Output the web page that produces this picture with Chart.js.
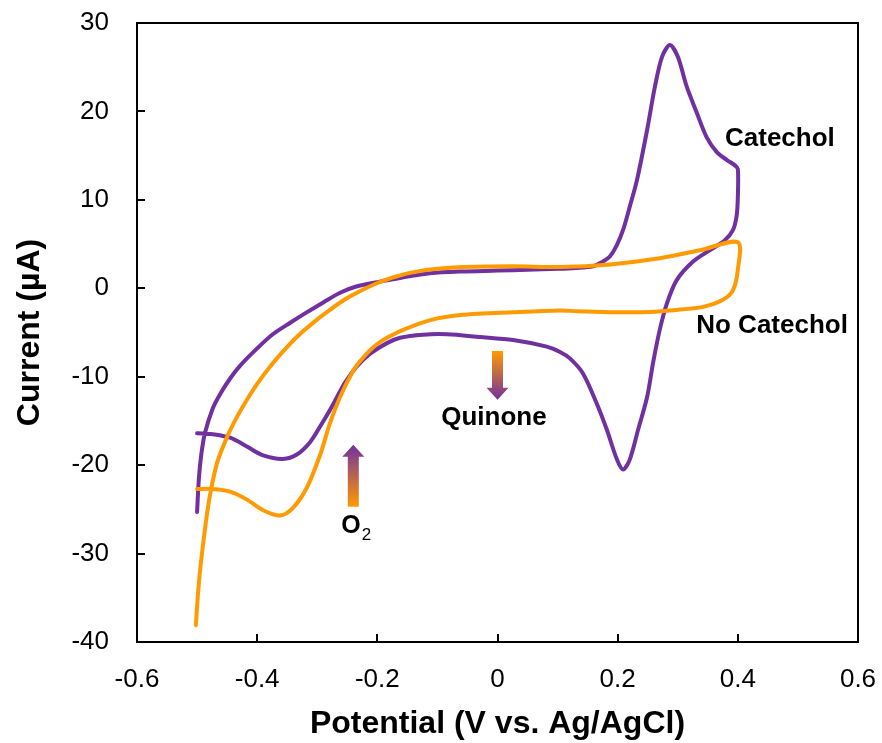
<!DOCTYPE html>
<html>
<head>
<meta charset="utf-8">
<script src="https://cdn.jsdelivr.net/npm/chart.js@4.4.1/dist/chart.umd.min.js"></script>
<style>
  html, body { margin: 0; padding: 0; background: #fff; }
</style>
</head>
<body>
<canvas id="cv" width="882" height="743"></canvas>
<script>
// potential (V) and current (uA) in sweep order
const catecholV = [
  -0.500, -0.497, -0.493, -0.487, -0.474, -0.462, -0.445, -0.429, -0.400, -0.374,
  -0.345, -0.317, -0.290, -0.262, -0.235, -0.200, -0.160, -0.112, -0.060, 0.000,
  0.050, 0.100, 0.130, 0.159, 0.175, 0.187, 0.198, 0.209, 0.220, 0.232,
  0.249, 0.262, 0.274, 0.287, 0.300, 0.315, 0.332, 0.348, 0.365, 0.382,
  0.395, 0.400,
  0.400, 0.398, 0.392, 0.378, 0.353, 0.325, 0.298, 0.282, 0.270, 0.259,
  0.249, 0.234, 0.220, 0.209, 0.199, 0.182, 0.165, 0.142, 0.120, 0.104,
  0.082, 0.026, -0.030, -0.084, -0.124, -0.162, -0.184, -0.212, -0.235, -0.255,
  -0.275, -0.295, -0.312, -0.334, -0.357, -0.390, -0.417, -0.445, -0.474, -0.500
];
const catecholI = [
  -25.3, -21.5, -18.8, -16.4, -13.6, -12.0, -10.2, -8.8, -6.8, -5.2,
  -3.9, -2.7, -1.6, -0.5, 0.2, 0.7, 1.2, 1.7, 1.9, 2.0,
  2.1, 2.2, 2.3, 2.5, 3.0, 3.6, 4.8, 6.6, 9.2, 12.2,
  17.9, 22.8, 26.2, 27.5, 26.2, 22.8, 19.8, 17.1, 15.4, 14.5,
  13.9, 13.5,
  10.3, 8.2, 6.6, 5.4, 4.3, 3.0, 0.9, -1.7, -4.7, -8.4,
  -12.3, -16.0, -19.4, -20.5, -19.4, -16.0, -13.0, -9.6, -7.9, -7.2,
  -6.6, -5.85, -5.5, -5.2, -5.25, -5.6, -6.2, -7.4, -8.9, -10.8,
  -13.3, -15.6, -17.4, -18.8, -19.3, -18.9, -17.9, -16.9, -16.5, -16.4
];
const noCatecholV = [
  -0.502, -0.499, -0.495, -0.487, -0.479, -0.467, -0.450, -0.434, -0.417, -0.400,
  -0.379, -0.355, -0.334, -0.305, -0.279, -0.255, -0.234, -0.200, -0.170, -0.141,
  -0.100, -0.058, 0.026, 0.104, 0.187, 0.270, 0.337, 0.400,
  0.400, 0.392, 0.375, 0.342, 0.298, 0.242, 0.187, 0.132, 0.104, 0.026,
  -0.058, -0.112, -0.157, -0.184, -0.200, -0.212, -0.228, -0.240, -0.262, -0.280,
  -0.295, -0.317, -0.340, -0.362, -0.390, -0.417, -0.445, -0.474, -0.500
];
const noCatecholI = [
  -38.1, -35.0, -31.9, -27.3, -23.6, -19.8, -16.8, -14.6, -12.6, -10.8,
  -8.9, -7.0, -5.5, -3.8, -2.45, -1.3, -0.5, 0.6, 1.3, 1.8,
  2.2, 2.4, 2.5, 2.4, 2.7, 3.4, 4.3, 5.2,
  2.1, -0.2, -1.3, -2.1, -2.45, -2.7, -2.7, -2.6, -2.5, -2.7,
  -3.0, -3.6, -4.7, -5.6, -6.3, -7.0, -8.2, -9.3, -12.3, -15.5,
  -18.8, -22.5, -24.8, -25.7, -25.1, -23.9, -23.0, -22.7, -22.7
];

const xTicks = [-0.6, -0.4, -0.2, 0, 0.2, 0.4, 0.6];
const yTicks = [30, 20, 10, 0, -10, -20, -30, -40];

// annotation text and arrows, placed in data units
const noteText = ['Catechol', 'No Catechol', 'Quinone'];
const noteV = [0.470, 0.457, -0.006];
const noteI = [16.9, -4.3, -14.6];
const arrowV = [-0.24, 0.0];
const arrowFrom = [-24.7, -7.1];
const arrowTo = [-17.7, -12.6];
const o2V = -0.236;
const o2I = -26.9;

const PURPLE = '#7030A0';
const ORANGE = '#FF9A00';
const FAMILY = '"Liberation Sans", Arial, sans-serif';

const toXY = (xs, ys) => xs.map((v, i) => ({ x: v, y: ys[i] }));

// keep the plot box where the padding puts it, labels may hang over
const noOverhang = s => { s.paddingTop = 0; s.paddingBottom = 0; s.paddingLeft = 0; s.paddingRight = 0; };

function drawArrow(ctx, px, y0, y1) {
  const dir = Math.sign(y1 - y0), hw = 5.5, hh = 11, hl = 12;
  const g = ctx.createLinearGradient(0, y0, 0, y1);
  g.addColorStop(0, ORANGE);
  g.addColorStop(1, PURPLE);
  ctx.fillStyle = g;
  ctx.beginPath();
  ctx.moveTo(px - hw, y0);
  ctx.lineTo(px - hw, y1 - dir * hl);
  ctx.lineTo(px - hh, y1 - dir * hl);
  ctx.lineTo(px, y1);
  ctx.lineTo(px + hh, y1 - dir * hl);
  ctx.lineTo(px + hw, y1 - dir * hl);
  ctx.lineTo(px + hw, y0);
  ctx.closePath();
  ctx.fill();
}

const framePlugin = {
  id: 'frame',
  afterDatasetsDraw(chart) {
    const { ctx, chartArea: a, scales: { x, y } } = chart;
    ctx.save();
    ctx.strokeStyle = '#000';
    ctx.lineWidth = 2;
    ctx.strokeRect(a.left, a.top, a.right - a.left, a.bottom - a.top);

    // ticks point inward
    ctx.beginPath();
    xTicks.slice(1, -1).forEach(v => {
      const px = Math.round(x.getPixelForValue(v));
      ctx.moveTo(px, a.bottom);
      ctx.lineTo(px, a.bottom - 8);
    });
    yTicks.slice(1, -1).forEach(v => {
      const py = Math.round(y.getPixelForValue(v));
      ctx.moveTo(a.left, py);
      ctx.lineTo(a.left + 8, py);
    });
    ctx.stroke();

    arrowV.forEach((v, i) => {
      drawArrow(ctx, x.getPixelForValue(v), y.getPixelForValue(arrowFrom[i]), y.getPixelForValue(arrowTo[i]));
    });

    ctx.fillStyle = '#000';
    ctx.textAlign = 'center';
    ctx.textBaseline = 'middle';
    ctx.font = 'bold 26px ' + FAMILY;
    noteText.forEach((t, i) => {
      ctx.fillText(t, x.getPixelForValue(noteV[i]), y.getPixelForValue(noteI[i]));
    });

    // O2 with subscript
    const ox = x.getPixelForValue(o2V), oy = y.getPixelForValue(o2I);
    ctx.font = 'bold 25px ' + FAMILY;
    const wO = ctx.measureText('O').width;
    ctx.font = '17px ' + FAMILY;
    const w2 = ctx.measureText('2').width;
    const start = ox - (wO + w2) / 2;
    ctx.textAlign = 'left';
    ctx.font = 'bold 25px ' + FAMILY;
    ctx.fillText('O', start, oy);
    ctx.font = '17px ' + FAMILY;
    ctx.fillText('2', start + wO + 1, oy + 9);
    ctx.restore();
  }
};

new Chart(document.getElementById('cv'), {
  type: 'scatter',
  data: {
    datasets: [
      { label: 'Catechol', data: toXY(catecholV, catecholI), borderColor: PURPLE, showLine: true, order: 2 },
      { label: 'No Catechol', data: toXY(noCatecholV, noCatecholI), borderColor: ORANGE, showLine: true, order: 1 }
    ]
  },
  options: {
    responsive: false,
    animation: false,
    layout: { padding: { top: 23, right: 24, left: 0, bottom: 0 } },
    elements: {
      point: { radius: 0, hoverRadius: 0 },
      line: { borderWidth: 4, tension: 0.3, fill: false, borderCapStyle: 'round', borderJoinStyle: 'round' }
    },
    plugins: { legend: { display: false }, tooltip: { enabled: false } },
    scales: {
      x: {
        type: 'linear', min: -0.6, max: 0.6,
        grid: { display: false }, border: { display: false },
        afterBuildTicks: s => { s.ticks = xTicks.map(v => ({ value: v })); },
        afterFit: s => { s.height = 101; noOverhang(s); },
        ticks: {
          font: { size: 26, family: FAMILY }, color: '#000', padding: 14, maxRotation: 0,
          callback: v => String(Math.round(v * 10) / 10)
        },
        title: {
          display: true, text: 'Potential (V vs. Ag/AgCl)', color: '#000',
          font: { size: 32, weight: 'bold', family: FAMILY }, padding: { top: 0, bottom: 0 }
        }
      },
      y: {
        type: 'linear', min: -40, max: 30,
        grid: { display: false }, border: { display: false },
        afterBuildTicks: s => { s.ticks = yTicks.map(v => ({ value: v })); },
        afterFit: s => { s.width = 137; noOverhang(s); },
        ticks: { font: { size: 26, family: FAMILY }, color: '#000', padding: 20 },
        title: {
          display: true, text: 'Current (µA)', color: '#000',
          font: { size: 32, weight: 'bold', family: FAMILY }, padding: { top: 11, bottom: 0 }
        }
      }
    }
  },
  plugins: [framePlugin]
});
</script>
</body>
</html>
